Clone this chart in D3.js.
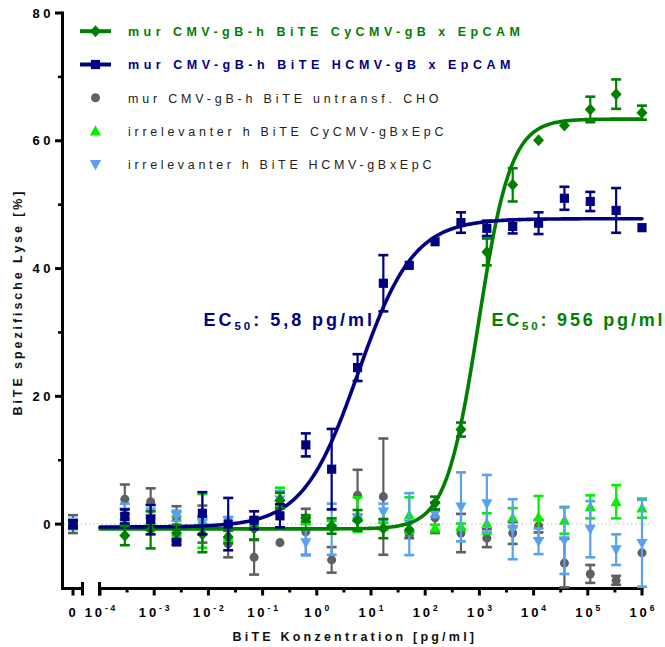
<!DOCTYPE html>
<html><head><meta charset="utf-8">
<script src="https://cdn.jsdelivr.net/npm/d3@7"></script>
<style>
body{margin:0;background:#fff}
svg{display:block}
text{font-family:"Liberation Sans",Arial,sans-serif}
</style>
</head><body>
<svg id="c" width="665" height="647"></svg>
<script>
// ---------------- data ----------------
// concentrations in pg/ml (3-fold dilutions), first entry = no BiTE ("0")
const concentrations = [0, 0.000287, 0.00086, 0.00258, 0.00774, 0.0232, 0.0697, 0.209, 0.627, 1.88, 5.65, 16.9, 50.8, 152, 457, 1372, 4115, 12346, 37037, 111111, 333333, 1000000];

const cyEpcamMean = [-0.2, -1.8, -0.9, -1.4, -1.6, -2.0, -0.7, 3.7, 0.9, -0.3, 0.6, -0.7, -0.9, 3.3, 14.8, 42.6, 53.1, 60.1, 62.4, 64.9, 67.3, 64.4];
const cyEpcamErr  = [0.5, 1.5, 2.9, 1.3, 2.8, 1.0, 1.7, 1.2, 0.5, 1.2, 1.6, 1.5, 0, 1.0, 1.1, 2.1, 2.6, 0, 0, 2.0, 2.3, 1.1];

const hEpcamMean = [0.0, 1.2, 0.7, -2.8, 1.7, 0.0, 0.6, 1.3, 12.4, 8.6, 24.5, 37.7, 40.5, 44.2, 47.2, 46.3, 46.6, 47.1, 51.0, 50.5, 49.1, 46.4];
const hEpcamErr  = [0.6, 1.1, 2.3, 0.4, 3.3, 4.1, 1.4, 1.8, 1.8, 6.3, 2.1, 4.4, 0, 0, 1.6, 1.2, 1.1, 1.7, 1.8, 1.5, 3.5, 0];

const choMean = [0.0, 3.9, 3.5, 1.0, 0.0, -3.1, -5.2, -2.9, -1.2, -5.6, 4.5, 4.3, -1.7, 1.0, -1.4, -2.2, -1.4, -0.3, -6.1, -7.8, -8.8, -4.5];
const choErr  = [1.4, 2.3, 2.1, 1.8, 2.9, 2.1, 2.7, 0, 3.6, 2.0, 4.0, 9.1, 0.5, 2.4, 3.0, 1.4, 1.7, 1.0, 3.8, 1.4, 0.7, 0];

const irrCyMean = [0.0, 0.3, 0.5, -0.3, 0.5, -1.6, 0.2, 4.2, 0.5, 0.0, 1.5, -0.3, 1.4, -0.6, -0.4, 0.1, 1.0, 1.1, 0.6, 2.7, 3.5, 2.5];
const irrCyErr  = [0.5, 0.5, 0.5, 1.5, 4.2, 1.0, 0.5, 1.5, 0.5, 0.5, 2.7, 0.5, 2.8, 0.5, 0.5, 1.6, 1.5, 3.3, 2.1, 1.8, 2.6, 1.5];

const irrHMean = [0.0, 1.9, 1.9, 1.3, 0.2, 0.6, -0.2, 3.8, -2.9, -0.8, 1.0, 1.9, 0.0, 1.6, 2.7, 3.2, -0.8, -2.7, -2.6, -0.8, -4.0, -3.0];
const irrHErr  = [0.8, 1.3, 1.1, 0.8, 0.5, 0.5, 0.5, 1.4, 2.0, 4.0, 0.5, 1.3, 4.85, 0.5, 5.4, 4.5, 4.7, 2.0, 5.2, 4.4, 2.4, 6.8];

// fitted 4-parameter logistic curves: [bottom, top, EC50 (pg/ml), Hill slope]
const fitCyEpcam = [-0.75, 63.4, 956, 1.45];
const fitHEpcam  = [-0.45, 47.8, 5.8, 0.85];

const legendLabels = [
  "mur CMV-gB-h BiTE CyCMV-gB x EpCAM",
  "mur CMV-gB-h BiTE HCMV-gB x EpCAM",
  "mur CMV-gB-h BiTE untransf. CHO",
  "irrelevanter h BiTE CyCMV-gBxEpC",
  "irrelevanter h BiTE HCMV-gBxEpC"
];
const yTickValues = [0, 20, 40, 60, 80];
const yMinorTickValues = [10, 30, 50, 70];
const xTickExponents = [-4, -3, -2, -1, 0, 1, 2, 3, 4, 5, 6];
const xMinorExponents = [-3.5, -2.5, -1.5, -0.5, 0.5, 1.5, 2.5, 3.5, 4.5, 5.5];
const ecLabels = [["5,8 pg/ml"], ["956 pg/ml"]];

// ---------------- setup ----------------
const svg = d3.select("#c");
const FONT = '"Liberation Sans",Arial,sans-serif';
const cGreen = "#008000", cNavy = "#000080", cGray = "#606060", cLime = "#00f000", cSky = "#5aa0f0";

const y = d3.scaleLinear().domain([-10, 80]).range([588, 13]);
const x = d3.scaleLog().domain([1e-4, 1e6]).range([100, 642]);
const xZero = 73;
const xpos = c => c === 0 ? xZero : x(c);

const shapes = {
  diamond: "M0,-6L5.5,0L0,6L-5.5,0Z",
  square: "M-4.6,-4.6h9.2v9.2h-9.2Z",
  triUp: "M0,-5.8L5.6,4.4L-5.6,4.4Z",
  triDown: "M0,5.8L5.6,-4.4L-5.6,-4.4Z",
  circle: d3.symbol(d3.symbolCircle, 64)()
};

// zero dotted line
svg.append("line").attr("x1", 64).attr("x2", 650).attr("y1", y(0)).attr("y2", y(0))
  .attr("stroke", "#bdbdbd").attr("stroke-width", 1.2).attr("stroke-dasharray", "1.2,3");

// ---------------- axes ----------------
const ax = svg.append("g").attr("stroke", "#000");
// y axis
ax.append("line").attr("x1", 62.5).attr("x2", 62.5).attr("y1", 11.5).attr("y2", 590).attr("stroke-width", 3);
yTickValues.forEach(v => ax.append("line").attr("x1", 55).attr("x2", 62).attr("y1", y(v)).attr("y2", y(v)).attr("stroke-width", 3));
yMinorTickValues.forEach(v => ax.append("line").attr("x1", 58).attr("x2", 62).attr("y1", y(v)).attr("y2", y(v)).attr("stroke-width", 2.5));
// x axis: zero segment
ax.append("line").attr("x1", 61).attr("x2", 83.5).attr("y1", 588.5).attr("y2", 588.5).attr("stroke-width", 3);
ax.append("line").attr("x1", xZero).attr("x2", xZero).attr("y1", 588).attr("y2", 595.5).attr("stroke-width", 3);
ax.append("line").attr("x1", 82.5).attr("x2", 82.5).attr("y1", 582).attr("y2", 595.5).attr("stroke-width", 3);
// main segment
ax.append("line").attr("x1", 98.5).attr("x2", 643.5).attr("y1", 588.5).attr("y2", 588.5).attr("stroke-width", 3);
ax.append("line").attr("x1", 99.5).attr("x2", 99.5).attr("y1", 582).attr("y2", 595.5).attr("stroke-width", 3);
xTickExponents.forEach(e => ax.append("line").attr("x1", x(10 ** e)).attr("x2", x(10 ** e)).attr("y1", 588).attr("y2", 595.5).attr("stroke-width", 3));
xMinorExponents.forEach(e => ax.append("line").attr("x1", x(10 ** e)).attr("x2", x(10 ** e)).attr("y1", 588).attr("y2", 592.5).attr("stroke-width", 3));

// text helpers
function fitSpacing(t, target) {
  t.attr("letter-spacing", 0);
  const n = t.node().getNumberOfChars();
  const w0 = t.node().getComputedTextLength();
  const ls = (target - w0) / (n - 1);
  t.attr("letter-spacing", ls);
  return w0 + ls * (n - 1);
}
function visWidth(t) {
  const n = t.node().getNumberOfChars();
  const ls = +t.attr("letter-spacing") || 0;
  return t.node().getComputedTextLength() - ls;
}

// y tick labels
yTickValues.forEach(v => {
  const t = svg.append("text").attr("font-size", 13).attr("font-weight", "bold").attr("letter-spacing", 3.6)
    .attr("y", y(v) + 4.7).text(v);
  const w = visWidth(t);
  t.attr("x", 50.5 - w);
});
// x tick labels
{
  const t = svg.append("text").attr("font-size", 13).attr("font-weight", "bold").attr("y", 617).text("0");
  t.attr("x", 72 - visWidth(t) / 2);
}
xTickExponents.forEach(e => {
  const t = svg.append("text").attr("font-size", 13).attr("font-weight", "bold").attr("letter-spacing", 2.9).attr("y", 617);
  t.append("tspan").text("10");
  t.append("tspan").attr("font-size", 8.5).attr("dy", -6).text(e < 0 ? "-" + Math.abs(e) : String(e));
  const w = visWidth(t);
  t.attr("x", x(10 ** e) - w / 2);
});

// axis titles
{
  const t = svg.append("text").attr("font-size", 12.5).attr("font-weight", "bold").attr("fill", "#111")
    .attr("x", 232.5).attr("y", 641).text("BiTE Konzentration [pg/ml]");
  fitSpacing(t, 241.5);
  const t2 = svg.append("text").attr("font-size", 12.5).attr("font-weight", "bold").attr("fill", "#111")
    .attr("transform", "translate(22,415.5) rotate(-90)").attr("x", 0).attr("y", 0).text("BiTE spezifische Lyse [%]");
  fitSpacing(t2, 224);
}

// ---------------- curves ----------------
const fourPL = (p, lx) => p[0] + (p[1] - p[0]) / (1 + Math.pow(10, (Math.log10(p[2]) - lx) * p[3]));
const grid = d3.range(-4, 6.0001, 0.02);
const lineGen = d3.line().x(d => d[0]).y(d => d[1]);
function drawCurve(p, color) {
  svg.append("path").attr("d", lineGen(grid.map(lx => [x(10 ** lx), y(fourPL(p, lx))])))
    .attr("fill", "none").attr("stroke", color).attr("stroke-width", 3.6).attr("stroke-linecap", "round");
}

// ---------------- points ----------------
function drawSeries(mean, err, color, shape) {
  const g = svg.append("g");
  concentrations.forEach((c, i) => {
    const cx = xpos(c), m = mean[i], e = err[i];
    if (e > 0) {
      const y1 = y(Math.max(m - e, -10)), y2 = y(m + e);
      g.append("line").attr("x1", cx).attr("x2", cx).attr("y1", y1).attr("y2", y2).attr("stroke", color).attr("stroke-width", 2.2);
      g.append("line").attr("x1", cx - 5).attr("x2", cx + 5).attr("y1", y2).attr("y2", y2).attr("stroke", color).attr("stroke-width", 2.6);
      if (m - e > -10) g.append("line").attr("x1", cx - 5).attr("x2", cx + 5).attr("y1", y1).attr("y2", y1).attr("stroke", color).attr("stroke-width", 2.6);
    }
    g.append("path").attr("d", shapes[shape]).attr("transform", `translate(${cx},${y(m)})`).attr("fill", color);
  });
}

drawSeries(choMean, choErr, cGray, "circle");
drawSeries(irrCyMean, irrCyErr, cLime, "triUp");
drawSeries(irrHMean, irrHErr, cSky, "triDown");
drawCurve(fitCyEpcam, cGreen);
drawCurve(fitHEpcam, cNavy);
drawSeries(cyEpcamMean, cyEpcamErr, cGreen, "diamond");
drawSeries(hEpcamMean, hEpcamErr, cNavy, "square");

// ---------------- EC50 labels ----------------
function ecLabel(x0, base, target, rest, color) {
  const t = svg.append("text").attr("font-size", 18).attr("font-weight", "bold").attr("fill", color)
    .attr("x", x0).attr("y", base);
  t.append("tspan").text("EC");
  t.append("tspan").attr("font-size", 11.5).attr("dy", 4.5).text("50");
  t.append("tspan").attr("dy", -4.5).text(": " + rest);
  fitSpacing(t, target);
}
ecLabel(203.5, 325.5, 168.5, ecLabels[0][0], cNavy);
ecLabel(491.5, 325.5, 171, ecLabels[1][0], cGreen);

// ---------------- legend ----------------
const legendColors = [cGreen, cNavy, "#222", "#222", "#222"];
const markerColors = [cGreen, cNavy, cGray, cLime, cSky];
const markerShapes = ["diamond", "square", "circle", "triUp", "triDown"];
const legendWidths = [392, 382.5, 310.5, 315.5, 303.5];
legendLabels.forEach((lab, i) => {
  const base = 36 + i * 33.3;
  const my = base - 4.8;
  if (i < 2) svg.append("line").attr("x1", 80).attr("x2", 111).attr("y1", my).attr("y2", my)
    .attr("stroke", markerColors[i]).attr("stroke-width", 4);
  svg.append("path").attr("d", shapes[markerShapes[i]]).attr("transform", `translate(95.5,${my})`).attr("fill", markerColors[i]);
  const t = svg.append("text").attr("font-size", 12.5).attr("font-weight", i < 2 ? "bold" : "normal")
    .attr("fill", legendColors[i]).attr("x", 128).attr("y", base).text(lab);
  fitSpacing(t, legendWidths[i]);
});
</script>
</body></html>
